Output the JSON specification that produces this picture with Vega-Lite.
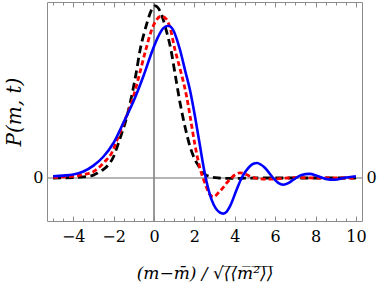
{
  "$schema": "https://vega.github.io/schema/vega-lite/v6.json",
  "width": 315,
  "height": 219,
  "autosize": {"type": "none"},
  "padding": {"left": 47, "top": 2, "right": 16, "bottom": 75},
  "background": "white",
  "config": {
    "view": {"stroke": "#8c8c8c", "strokeWidth": 1},
    "axis": {
      "domain": false,
      "grid": false,
      "labelFont": "DejaVu Serif",
      "labelFontSize": 16,
      "labelColor": "#000000",
      "tickColor": "#8c8c8c",
      "tickWidth": 1,
      "titleFont": "DejaVu Serif",
      "titleColor": "#000000",
      "titleFontWeight": "normal"
    }
  },
  "datasets": {
    "origin": [{"v": 0}],
    "black": [
      {"x": -5, "y": 0}, {"x": -4.5, "y": 0.001}, {"x": -4, "y": 0.002}, {"x": -3.5, "y": 0.007},
      {"x": -3, "y": 0.017}, {"x": -2.75, "y": 0.032}, {"x": -2.5, "y": 0.05}, {"x": -2.25, "y": 0.078},
      {"x": -2, "y": 0.125}, {"x": -1.77, "y": 0.2}, {"x": -1.6, "y": 0.26}, {"x": -1.43, "y": 0.32},
      {"x": -1.15, "y": 0.453}, {"x": -0.9, "y": 0.6}, {"x": -0.69, "y": 0.744}, {"x": -0.4, "y": 0.88},
      {"x": -0.15, "y": 0.97}, {"x": 0.05, "y": 1.0}, {"x": 0.3, "y": 0.97}, {"x": 0.6, "y": 0.86},
      {"x": 0.84, "y": 0.744}, {"x": 1.05, "y": 0.6}, {"x": 1.29, "y": 0.436}, {"x": 1.53, "y": 0.3},
      {"x": 1.78, "y": 0.184}, {"x": 2.03, "y": 0.106}, {"x": 2.28, "y": 0.058}, {"x": 2.52, "y": 0.022},
      {"x": 2.85, "y": 0.006}, {"x": 3.2, "y": 0.0}, {"x": 3.6, "y": -0.002}, {"x": 4.2, "y": -0.002},
      {"x": 5, "y": 0}, {"x": 6, "y": 0}, {"x": 7, "y": 0}, {"x": 8, "y": 0}, {"x": 9, "y": 0}, {"x": 10, "y": 0}
    ],
    "red": [
      {"x": -5, "y": 0.003}, {"x": -4.5, "y": 0.006}, {"x": -4, "y": 0.011}, {"x": -3.5, "y": 0.02},
      {"x": -3, "y": 0.037}, {"x": -2.67, "y": 0.067}, {"x": -2.4, "y": 0.1}, {"x": -2.1, "y": 0.145},
      {"x": -1.77, "y": 0.24}, {"x": -1.5, "y": 0.32}, {"x": -1.07, "y": 0.453}, {"x": -0.75, "y": 0.59},
      {"x": -0.41, "y": 0.744}, {"x": -0.15, "y": 0.85}, {"x": 0.1, "y": 0.915}, {"x": 0.35, "y": 0.94},
      {"x": 0.6, "y": 0.925}, {"x": 0.8, "y": 0.87}, {"x": 1.04, "y": 0.744}, {"x": 1.3, "y": 0.63},
      {"x": 1.62, "y": 0.47}, {"x": 1.8, "y": 0.35}, {"x": 2.03, "y": 0.19}, {"x": 2.28, "y": 0.055},
      {"x": 2.52, "y": -0.029}, {"x": 2.77, "y": -0.097}, {"x": 2.95, "y": -0.11}, {"x": 3.18, "y": -0.087},
      {"x": 3.43, "y": -0.055}, {"x": 3.6, "y": -0.029}, {"x": 3.8, "y": -0.003}, {"x": 4.01, "y": 0.019},
      {"x": 4.26, "y": 0.03}, {"x": 4.45, "y": 0.026}, {"x": 4.75, "y": 0.01}, {"x": 5.0, "y": 0.0},
      {"x": 5.25, "y": -0.005}, {"x": 5.6, "y": -0.007}, {"x": 5.9, "y": -0.006}, {"x": 6.5, "y": -0.001},
      {"x": 7, "y": 0.002}, {"x": 7.5, "y": 0.001}, {"x": 8, "y": 0}, {"x": 9, "y": 0}, {"x": 10, "y": 0}
    ],
    "blue": [
      {"x": -5, "y": 0.01}, {"x": -4.5, "y": 0.014}, {"x": -4, "y": 0.02}, {"x": -3.5, "y": 0.038},
      {"x": -3, "y": 0.072}, {"x": -2.5, "y": 0.125}, {"x": -2, "y": 0.205}, {"x": -1.5, "y": 0.325},
      {"x": -1, "y": 0.45}, {"x": -0.5, "y": 0.6}, {"x": -0.07, "y": 0.744}, {"x": 0.2, "y": 0.82},
      {"x": 0.45, "y": 0.87}, {"x": 0.71, "y": 0.885}, {"x": 0.95, "y": 0.86}, {"x": 1.29, "y": 0.744},
      {"x": 1.55, "y": 0.62}, {"x": 1.78, "y": 0.512}, {"x": 2.03, "y": 0.358}, {"x": 2.28, "y": 0.184},
      {"x": 2.48, "y": 0.048}, {"x": 2.6, "y": -0.02}, {"x": 2.85, "y": -0.126}, {"x": 3.05, "y": -0.175},
      {"x": 3.25, "y": -0.2}, {"x": 3.43, "y": -0.207}, {"x": 3.6, "y": -0.195}, {"x": 3.76, "y": -0.165},
      {"x": 4.09, "y": -0.068}, {"x": 4.34, "y": 0.0}, {"x": 4.55, "y": 0.04}, {"x": 4.75, "y": 0.068},
      {"x": 4.95, "y": 0.084}, {"x": 5.1, "y": 0.087}, {"x": 5.3, "y": 0.077}, {"x": 5.5, "y": 0.058},
      {"x": 5.7, "y": 0.03}, {"x": 5.9, "y": 0.0}, {"x": 6.15, "y": -0.028}, {"x": 6.4, "y": -0.039},
      {"x": 6.65, "y": -0.03}, {"x": 6.9, "y": -0.01}, {"x": 7.3, "y": 0.018}, {"x": 7.7, "y": 0.024},
      {"x": 8.1, "y": 0.011}, {"x": 8.5, "y": -0.005}, {"x": 8.95, "y": -0.01}, {"x": 9.4, "y": 0.0},
      {"x": 10, "y": 0.01}
    ]
  },
  "layer": [
    {
      "data": {"name": "origin"},
      "mark": {"type": "rule", "color": "#8c8c8c", "strokeWidth": 0.8},
      "encoding": {
        "x": {
          "field": "v", "type": "quantitative",
          "scale": {"domain": [-5.3, 10.3], "nice": false, "zero": false},
          "axis": {
            "orient": "bottom",
            "values": [-4, -2, 0, 2, 4, 6, 8, 10],
            "tickSize": -5,
            "labelPadding": 12,
            "title": "(m−m̄) / √⟨̅⟨̅m̅²̅⟩̅⟩̅",
            "titleFontSize": 17,
            "titleFontStyle": "italic",
            "titlePadding": 21
          }
        }
      }
    },
    {
      "data": {"name": "origin"},
      "mark": {"type": "rule", "color": "#8c8c8c", "strokeWidth": 0.8},
      "encoding": {
        "y": {
          "field": "v", "type": "quantitative",
          "scale": {"domain": [-0.25, 1.023], "nice": false, "zero": false},
          "axis": {
            "orient": "left",
            "values": [0],
            "tickSize": 0,
            "labelPadding": 4,
            "title": "P(m, t)",
            "titleFontSize": 20,
            "titleFontStyle": "italic",
            "titlePadding": 8
          }
        }
      }
    },
    {
      "data": {"name": "origin"},
      "mark": {"type": "rule", "color": "#8c8c8c", "strokeWidth": 0.8},
      "encoding": {
        "y": {
          "field": "v", "type": "quantitative",
          "scale": {"domain": [-0.25, 1.023], "nice": false, "zero": false},
          "axis": {"orient": "right", "values": [0], "tickSize": 0, "labelPadding": 4, "title": null}
        }
      }
    },
    {
      "data": {"name": "origin"},
      "mark": {"type": "rule", "color": "#8c8c8c", "strokeWidth": 0.8},
      "encoding": {
        "x": {
          "field": "v", "type": "quantitative",
          "scale": {"domain": [-5.3, 10.3], "nice": false, "zero": false},
          "axis": {"orient": "top", "values": [-4, -2, 0, 2, 4, 6, 8, 10], "tickSize": -5, "labels": false, "title": null}
        }
      }
    },
    {
      "data": {"name": "origin"},
      "mark": {"type": "rule", "color": "#8c8c8c", "strokeWidth": 0.8},
      "encoding": {
        "x": {
          "field": "v", "type": "quantitative",
          "scale": {"domain": [-5.3, 10.3], "nice": false, "zero": false},
          "axis": {"orient": "bottom", "values": [-5, -4.5, -3.5, -3, -2.5, -1.5, -1, -0.5, 0.5, 1, 1.5, 2.5, 3, 3.5, 4.5, 5, 5.5, 6.5, 7, 7.5, 8.5, 9, 9.5], "tickSize": -3, "labels": false, "title": null}
        }
      }
    },
    {
      "data": {"name": "origin"},
      "mark": {"type": "rule", "color": "#8c8c8c", "strokeWidth": 0.8},
      "encoding": {
        "x": {
          "field": "v", "type": "quantitative",
          "scale": {"domain": [-5.3, 10.3], "nice": false, "zero": false},
          "axis": {"orient": "top", "values": [-5, -4.5, -3.5, -3, -2.5, -1.5, -1, -0.5, 0.5, 1, 1.5, 2.5, 3, 3.5, 4.5, 5, 5.5, 6.5, 7, 7.5, 8.5, 9, 9.5], "tickSize": -3, "labels": false, "title": null}
        }
      }
    },
    {
      "data": {"name": "black"},
      "mark": {"type": "line", "color": "#000000", "strokeWidth": 2.8, "strokeDash": [8, 4.5], "interpolate": "monotone", "clip": true},
      "encoding": {
        "x": {"field": "x", "type": "quantitative", "scale": {"domain": [-5.3, 10.3], "nice": false, "zero": false}, "axis": null},
        "y": {"field": "y", "type": "quantitative", "scale": {"domain": [-0.25, 1.023], "nice": false, "zero": false}, "axis": null}
      }
    },
    {
      "data": {"name": "red"},
      "mark": {"type": "line", "color": "#ff0000", "strokeWidth": 2.8, "strokeDash": [5, 3], "interpolate": "monotone", "clip": true},
      "encoding": {
        "x": {"field": "x", "type": "quantitative", "scale": {"domain": [-5.3, 10.3], "nice": false, "zero": false}, "axis": null},
        "y": {"field": "y", "type": "quantitative", "scale": {"domain": [-0.25, 1.023], "nice": false, "zero": false}, "axis": null}
      }
    },
    {
      "data": {"name": "blue"},
      "mark": {"type": "line", "color": "#0000ff", "strokeWidth": 2.6, "interpolate": "monotone", "clip": true},
      "encoding": {
        "x": {"field": "x", "type": "quantitative", "scale": {"domain": [-5.3, 10.3], "nice": false, "zero": false}, "axis": null},
        "y": {"field": "y", "type": "quantitative", "scale": {"domain": [-0.25, 1.023], "nice": false, "zero": false}, "axis": null}
      }
    }
  ],
  "resolve": {"axis": {"x": "independent", "y": "independent"}}
}
